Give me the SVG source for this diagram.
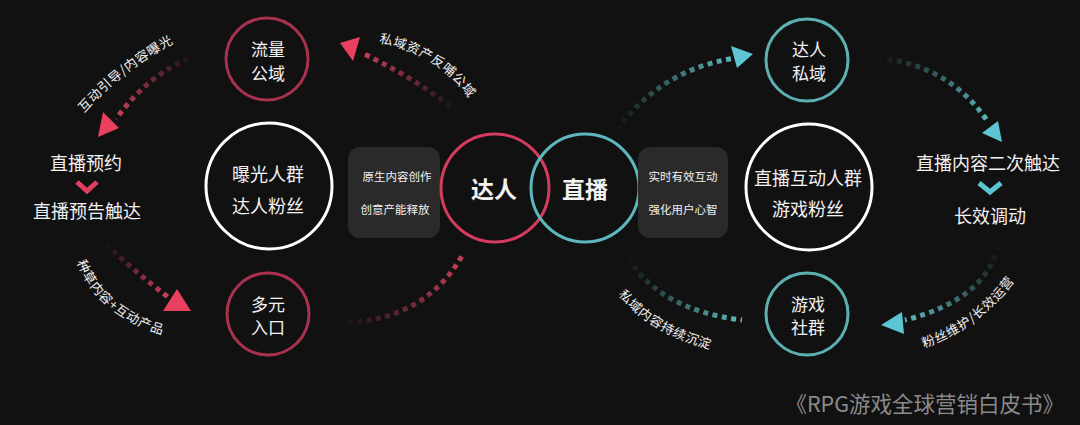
<svg xmlns="http://www.w3.org/2000/svg" width="1080" height="425" viewBox="0 0 1080 425">
<style>
.t{font-family:"Noto Sans CJK SC","Noto Sans",sans-serif;fill:#f2f2f2;text-anchor:middle;dominant-baseline:central}
.big{font-size:18px}
.mid{font-size:17px}
.sm{font-size:11.5px}
.lab{font-family:"Noto Sans CJK SC","Noto Sans",sans-serif;fill:#f2f2f2;font-size:13px;letter-spacing:0.6px}
.core{font-size:23px;font-weight:bold}
.dot{fill:none;stroke-width:5;stroke-dasharray:5 4.5}
.ra{fill:#e8405e}
.ta{fill:#5cc4d2}
.chev{fill:none;stroke-width:5;stroke-linecap:butt;stroke-linejoin:miter}
</style>
<defs>
<linearGradient id="g1" gradientUnits="userSpaceOnUse" x1="197" y1="55" x2="117" y2="118"><stop offset="0" stop-color="#c8405a" stop-opacity="0"/><stop offset="1" stop-color="#c8405a"/></linearGradient>
<linearGradient id="g2" gradientUnits="userSpaceOnUse" x1="106" y1="244" x2="168" y2="297"><stop offset="0" stop-color="#c8405a" stop-opacity="0"/><stop offset="1" stop-color="#c8405a"/></linearGradient>
<linearGradient id="g3" gradientUnits="userSpaceOnUse" x1="458" y1="112" x2="362" y2="53"><stop offset="0" stop-color="#c8405a" stop-opacity="0"/><stop offset="1" stop-color="#c8405a"/></linearGradient>
<linearGradient id="g4" gradientUnits="userSpaceOnUse" x1="338" y1="323" x2="463" y2="254"><stop offset="0" stop-color="#c8405a" stop-opacity="0"/><stop offset="1" stop-color="#c8405a"/></linearGradient>
<linearGradient id="g5" gradientUnits="userSpaceOnUse" x1="617" y1="130" x2="735" y2="58"><stop offset="0" stop-color="#5cb8bc" stop-opacity="0"/><stop offset="1" stop-color="#5cb8bc"/></linearGradient>
<linearGradient id="g6" gradientUnits="userSpaceOnUse" x1="878" y1="58" x2="988" y2="122"><stop offset="0" stop-color="#5cb8bc" stop-opacity="0"/><stop offset="1" stop-color="#5cb8bc"/></linearGradient>
<linearGradient id="g7" gradientUnits="userSpaceOnUse" x1="998" y1="246" x2="905" y2="320"><stop offset="0" stop-color="#5cb8bc" stop-opacity="0"/><stop offset="1" stop-color="#5cb8bc"/></linearGradient>
<linearGradient id="g8" gradientUnits="userSpaceOnUse" x1="628" y1="258" x2="742" y2="320"><stop offset="0" stop-color="#5cb8bc" stop-opacity="0"/><stop offset="1" stop-color="#5cb8bc"/></linearGradient>
<path id="p1" d="M84,113 Q122,70 174,43"/>
<path id="p2" d="M77,262 Q98,318 170,337"/>
<path id="p3" d="M379,43 Q442,54 474,106"/>
<path id="p7" d="M924,348 Q985,327 1022,270"/>
<path id="p8" d="M618,295 Q655,338 722,352"/>
</defs>
<rect width="1080" height="425" fill="#121112"/>

<g id="connectors">
<path class="dot" stroke="url(#g1)" d="M197,55 Q150,72 116,119"/>
<polygon class="ra" points="98,137 103,112 119,128"/>
<path class="dot" stroke="url(#g2)" d="M106,244 Q135,272 168,297"/>
<polygon class="ra" points="177,289 163,311 191,311"/>
<path class="dot" stroke="url(#g3)" d="M458,112 Q415,78 362,53"/>
<polygon class="ra" points="340,43 360,37 353,61"/>
<path class="dot" stroke="url(#g4)" d="M338,323 Q425,322 463,254"/>
<path class="dot" stroke="url(#g5)" d="M617,130 Q660,70 735,58"/>
<polygon class="ta" points="731,46 753,54 737,68"/>
<path class="dot" stroke="url(#g6)" d="M878,58 Q950,65 988,122"/>
<polygon class="ta" points="982,133 998,121 1002,142"/>
<path class="dot" stroke="url(#g7)" d="M998,246 Q985,300 905,320"/>
<polygon class="ta" points="881,325 902,312 904,334"/>
<path class="dot" stroke="url(#g8)" d="M628,258 Q660,310 742,320"/>
<text class="lab"><textPath href="#p1">互动引导/内容曝光</textPath></text>
<text class="lab"><textPath href="#p2">种草内容+互动产品</textPath></text>
<text class="lab"><textPath href="#p3">私域资产反哺公域</textPath></text>
<text class="lab"><textPath href="#p7">粉丝维护/长效运营</textPath></text>
<text class="lab"><textPath href="#p8">私域内容持续沉淀</textPath></text>
</g>

<g id="n-liuliang">
<circle cx="267" cy="59" r="41" fill="none" stroke="#a8324e" stroke-width="3"/>
<text class="t mid" x="268" y="48">流量</text>
<text class="t mid" x="268" y="72">公域</text>
</g>
<g id="n-baoguang">
<circle cx="269" cy="186" r="63" fill="none" stroke="#ffffff" stroke-width="3"/>
<text class="t big" x="268" y="173">曝光人群</text>
<text class="t big" x="268" y="205">达人粉丝</text>
</g>
<g id="n-duoyuan">
<circle cx="268" cy="314" r="41" fill="none" stroke="#a8324e" stroke-width="3"/>
<text class="t mid" x="268" y="303">多元</text>
<text class="t mid" x="268" y="326">入口</text>
</g>
<g id="n-box-left">
<rect x="348" y="147" width="92" height="91" rx="12" fill="#2a2a2a"/>
<text class="t sm" x="397" y="176">原生内容创作</text>
<text class="t sm" x="395" y="209">创意产能释放</text>
</g>
<g id="n-daren">
<circle cx="495" cy="188" r="54" fill="none" stroke="#d43c5e" stroke-width="3"/>
<text class="t core" x="494" y="188">达人</text>
</g>
<g id="n-zhibo">
<circle cx="585" cy="188" r="54" fill="none" stroke="#5cb8bc" stroke-width="3"/>
<text class="t core" x="585" y="188">直播</text>
</g>
<g id="n-box-right">
<rect x="638" y="147" width="90" height="91" rx="12" fill="#2a2a2a"/>
<text class="t sm" x="683" y="176">实时有效互动</text>
<text class="t sm" x="683" y="209">强化用户心智</text>
</g>
<g id="n-darensiyu">
<circle cx="807" cy="60" r="41" fill="none" stroke="#5cb0b2" stroke-width="3"/>
<text class="t mid" x="809" y="48">达人</text>
<text class="t mid" x="809" y="72">私域</text>
</g>
<g id="n-hudong">
<circle cx="809" cy="187" r="63" fill="none" stroke="#ffffff" stroke-width="3"/>
<text class="t big" x="808" y="177">直播互动人群</text>
<text class="t big" x="808" y="208">游戏粉丝</text>
</g>
<g id="n-shequn">
<circle cx="807" cy="314" r="41" fill="none" stroke="#5cb0b2" stroke-width="3"/>
<text class="t mid" x="808" y="303">游戏</text>
<text class="t mid" x="808" y="326">社群</text>
</g>
<g id="n-left-steps">
<text class="t big" x="86" y="162">直播预约</text>
<polyline class="chev" stroke="#e0405e" points="77,182 87,191 97,182"/>
<text class="t big" x="87" y="210">直播预告触达</text>
</g>
<g id="n-right-steps">
<text class="t big" x="988" y="162">直播内容二次触达</text>
<polyline class="chev" stroke="#5cc4d2" points="979,183 990,192 1001,183"/>
<text class="t big" x="990" y="215">长效调动</text>
</g>
<text x="1064" y="402" font-family="'Noto Sans CJK SC','Noto Sans',sans-serif" font-size="21.5" fill="#8a8a8a" text-anchor="end" dominant-baseline="central">《RPG游戏全球营销白皮书》</text>
</svg>
